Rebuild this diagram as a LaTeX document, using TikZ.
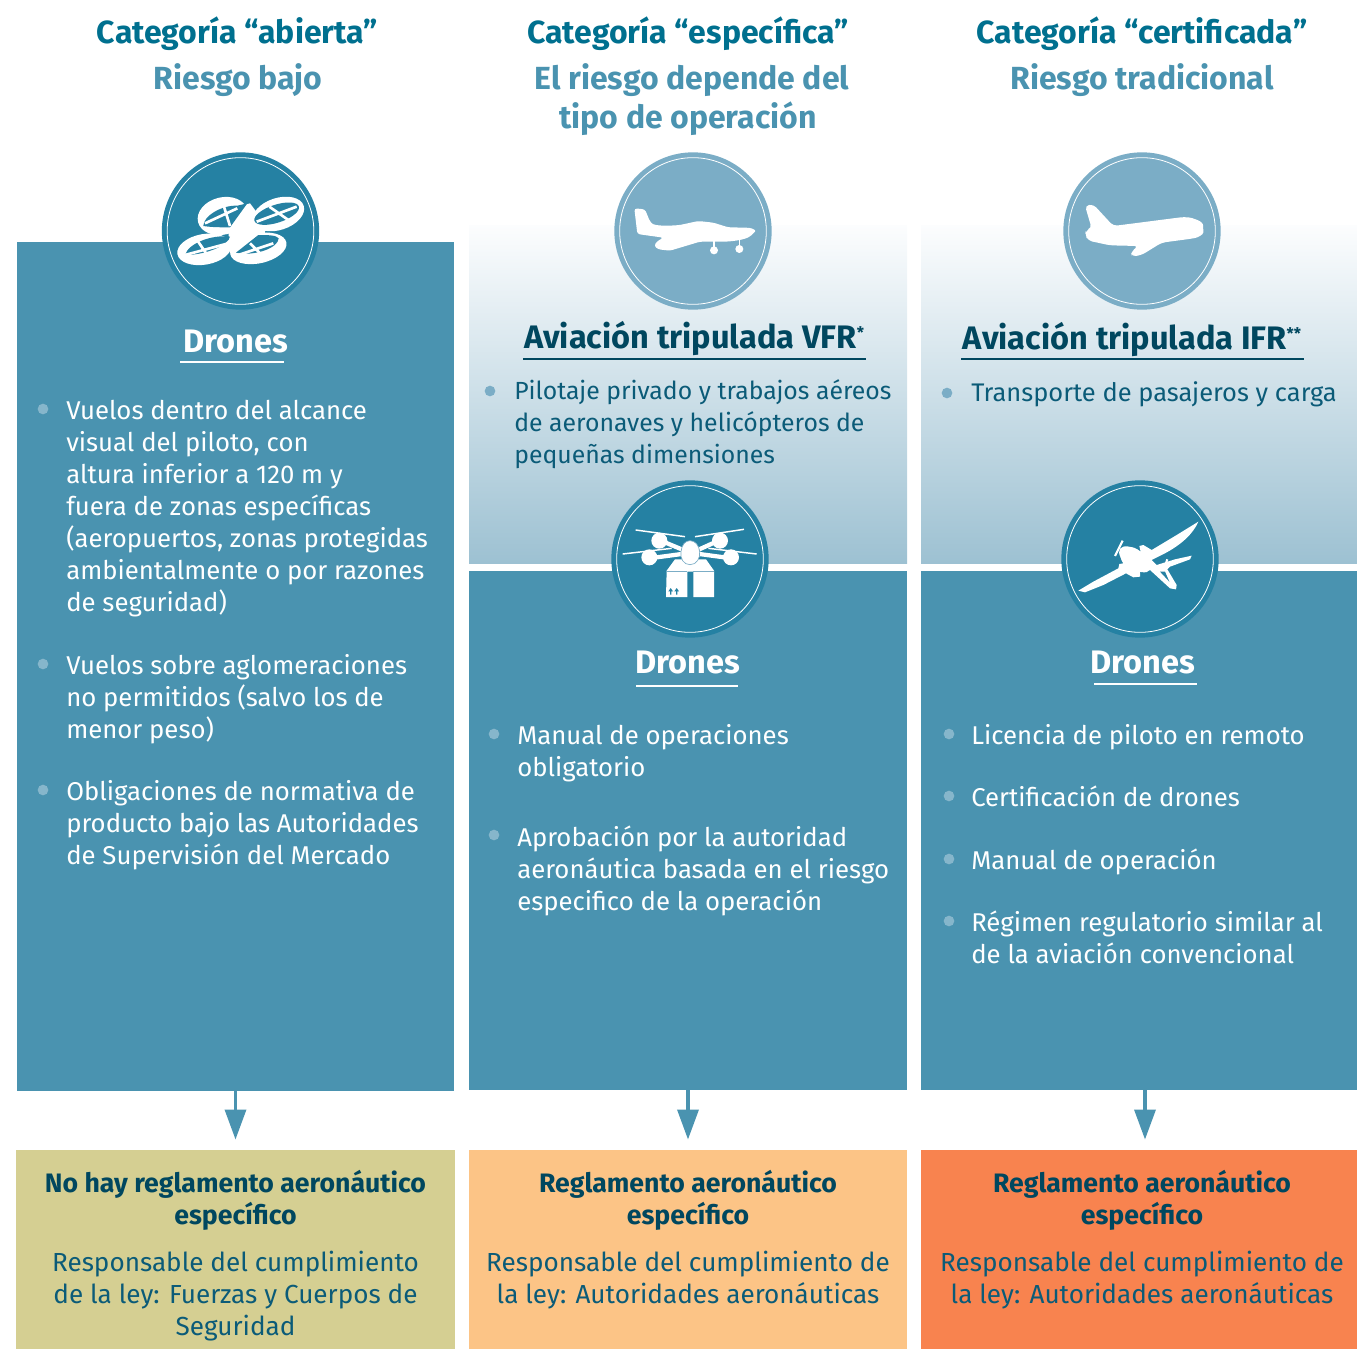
\documentclass[tikz,border=0pt]{standalone}
\usepackage{fontspec}
\setmainfont{Fira Sans}
\usetikzlibrary{arrows.meta}
\definecolor{panel}{HTML}{4A93B0}
\definecolor{disc}{HTML}{2581A3}
\definecolor{lightdisc}{HTML}{7BADC6}
\definecolor{gradtop}{HTML}{FCFDFE}
\definecolor{gradend}{HTML}{9DC1D2}
\definecolor{titlec}{HTML}{00708F}
\definecolor{subc}{HTML}{4A93B0}
\definecolor{darkc}{HTML}{00475F}
\definecolor{bodyd}{HTML}{0B5B78}
\definecolor{boxa}{HTML}{D5CF92}
\definecolor{boxb}{HTML}{FCC486}
\definecolor{boxc}{HTML}{F8834F}
\definecolor{dotl}{HTML}{86B6CB}
\tikzset{
  px/.style={x=0.75pt,y=-0.75pt},
  panelbox/.style={rectangle,inner sep=0pt,outer sep=0pt,fill=panel,anchor=north west},
  headt/.style={anchor=base,inner sep=0pt,font=\fontsize{24}{28}\selectfont\bfseries},
  bodyt/.style={anchor=north west,inner sep=0pt,align=left,yshift=17pt,font=\fontsize{19.3}{24}\selectfont},
  boldc/.style={anchor=north,inner sep=0pt,align=center,yshift=17pt,font=\fontsize{20}{24}\selectfont\bfseries,text=darkc},
  regc/.style={anchor=north,inner sep=0pt,align=center,yshift=17pt,font=\fontsize{19.6}{24}\selectfont,text=bodyd},
  bigt/.style={anchor=base,inner sep=0pt,font=\fontsize{24.4}{28}\selectfont\bfseries},
  dotd/.style={circle,inner sep=0pt,minimum size=8pt,fill=dotl},
  flow/.style={draw=panel,line width=2.5pt,-{Triangle[length=22.5pt,width=15.8pt]},shorten >=0pt},
  ringw/.style={draw=white,line width=.6pt,fill=none},
  icon/.style={x=0.25pt,y=-0.25pt},
}
\begin{document}
\begin{tikzpicture}[px]
\useasboundingbox (0,0) rectangle (1357,1349);
% panels
\shade[top color=gradtop,bottom color=gradend] (469,225) rectangle (907,563);
\shade[top color=gradtop,bottom color=gradend] (921,225) rectangle (1357,563);
\node[panelbox,minimum width=327.75pt,minimum height=636.75pt] (p1) at (17,241.5) {};
\node[panelbox,minimum width=328.5pt,minimum height=389.25pt] (p2) at (469,571) {};
\node[panelbox,minimum width=327pt,minimum height=389.25pt] (p3) at (921,571) {};
\node[panelbox,fill=boxa,minimum width=329.25pt,minimum height=149.25pt] (b1) at (16,1150) {};
\node[panelbox,fill=boxb,minimum width=328.5pt,minimum height=149.25pt] (b2) at (469,1150) {};
\node[panelbox,fill=boxc,minimum width=327pt,minimum height=149.25pt] (b3) at (921,1150) {};
% arrows
\coordinate (t1) at (235.5,1139.5);
\coordinate (t2) at (688,1139.5);
\coordinate (t3) at (1145,1139.5);
\coordinate (s3) at (1145,1090);
\draw[flow] (p1.south) -- (t1);
\draw[flow] (p2.south) -- (t2);
\draw[flow] (s3) -- (t3);
% discs
\node[circle,fill=disc,minimum size=118pt,inner sep=0pt] (d1) at (240.5,231) {};
\node[circle,fill=lightdisc,minimum size=118pt,inner sep=0pt] (d2) at (693,231) {};
\node[circle,fill=lightdisc,minimum size=118pt,inner sep=0pt] (d3) at (1142,231) {};
\node[circle,fill=disc,minimum size=118pt,inner sep=0pt] (d4) at (690,559) {};
\node[circle,fill=disc,minimum size=118pt,inner sep=0pt] (d5) at (1140,559) {};
\foreach \c in {d1,d2,d3,d4,d5} \node[circle,ringw,minimum size=110pt,inner sep=0pt] at (\c) {};
% icon 1
\begin{scope}[shift={(150,140)},icon]
 \fill[white,shift={(218,228)},rotate=14] (0,0) ellipse [x radius=76,y radius=56];
 \fill[white,shift={(385,222)},rotate=18] (0,0) ellipse [x radius=80,y radius=48];
 \fill[white,shift={(163,328)},rotate=10] (0,0) ellipse [x radius=82,y radius=46];
 \fill[white,shift={(325,325)},rotate=12] (0,0) ellipse [x radius=86,y radius=45];
 \fill[white] (265,200) -- (300,190) -- (345,250) -- (345,290) -- (280,340) -- (240,340) -- (235,270) -- cycle;
 \fill[disc] (160,258) .. controls (160,228) and (215,195) .. (262,197) -- (292,190) -- (240,262) .. controls (215,262) and (185,262) .. (160,258) -- cycle;
 \fill[disc,shift={(380,221)},rotate=18] (0,0) ellipse [x radius=70,y radius=27];
 \fill[disc] (105,345) .. controls (115,310) and (185,283) .. (240,290) .. controls (235,315) and (170,345) .. (105,345) -- cycle;
 \fill[disc] (258,338) -- (325,285) .. controls (350,285) and (380,285) .. (386,295) .. controls (385,325) and (310,350) .. (258,338) -- cycle;
 \draw[white,line width=2pt] (165,250)--(262,205) (222,200)--(240,258);
 \draw[white,line width=2pt] (320,245)--(440,200) (358,200)--(415,240);
 \draw[white,line width=2pt] (105,345)--(235,310) (140,298)--(175,350);
 \draw[white,line width=2pt] (265,345)--(370,310) (300,310)--(340,350);
\end{scope}
% icon 2
\begin{scope}[shift={(600,140)},icon]
 \fill[white,rounded corners=2pt] (103,205) -- (135,208) -- (150,245) .. controls (165,258) and (200,258) .. (240,255) -- (295,243) -- (340,248) -- (385,262) -- (440,263) .. controls (460,265) and (468,272) .. (460,280) .. controls (445,295) and (420,302) .. (375,305) -- (300,305) -- (210,332) -- (175,328) -- (162,318) -- (170,305) -- (190,293) -- (112,282) -- cycle;
 \draw[white,line width=.8pt] (342,303)--(342,325) (418,298)--(418,322);
 \fill[white] (342,331) circle [radius=12] (418,327) circle [radius=12];
\end{scope}
% icon 3
\begin{scope}[shift={(1050,140)},icon]
 \fill[white,rounded corners=3pt] (105,197) -- (130,193) -- (190,258) -- (400,231) .. controls (430,233) and (458,245) .. (460,265) .. controls (460,285) and (440,293) .. (425,296) -- (335,308) -- (275,345) -- (245,350) -- (243,335) -- (265,318) -- (180,316) -- (115,302) -- (105,285) -- (108,270) -- (125,265) -- cycle;
\end{scope}
% icon 4
\begin{scope}[shift={(600,470)},icon]
 \draw[white,line width=1.1pt] (107,180)--(255,200) (285,200)--(432,178) (68,252)--(215,235) (325,235)--(470,252);
 \draw[white,line width=3.2pt] (245,238)--(178,210) (298,238)--(360,210) (245,252)--(148,265) (298,252)--(395,265);
 \fill[white] (178,212) circle [radius=24] (360,212) circle [radius=24] (148,262) circle [radius=24] (393,262) circle [radius=24];
 \fill[white] (200,302) -- (225,268) -- (318,268) -- (342,302) -- (342,381) -- (280,381) -- (280,305) -- (262,305) -- (262,381) -- (198,381) -- cycle;
 \draw[lightdisc,line width=.5pt] (200,304)--(262,304) (280,304)--(342,304);
 \fill[white,draw=lightdisc,line width=.5pt] (270,284) .. controls (250,284) and (240,265) .. (243,245) .. controls (245,225) and (255,212) .. (270,212) .. controls (285,212) and (297,225) .. (299,245) .. controls (301,265) and (290,284) .. (270,284) -- cycle;
 \fill[disc] (212,354) -- (205,364) -- (210,364) -- (210,374) -- (214,374) -- (214,364) -- (219,364) -- cycle;
 \fill[disc] (230,354) -- (223,364) -- (228,364) -- (228,374) -- (232,374) -- (232,364) -- (237,364) -- cycle;
\end{scope}
% icon 5
\begin{scope}[shift={(1050,470)},icon]
 \fill[white] (445,155) .. controls (430,190) and (395,225) .. (335,255) -- (305,270) -- (320,285) -- (375,268) -- (425,257) -- (420,268) -- (360,290) -- (352,298) -- (380,345) -- (378,358) -- (360,355) -- (300,300) -- (270,300) -- (270,320) -- (250,322) -- (228,310) -- (160,345) -- (105,367) -- (85,362) -- (130,335) -- (205,295) -- (208,282) -- (220,280) .. controls (205,260) and (210,235) .. (230,232) .. controls (245,228) and (260,235) .. (272,245) -- (268,228) -- (280,225) -- (305,240) -- (380,195) -- cycle;
 \fill[white,shift={(255,268)},rotate=-35] (0,0) ellipse [x radius=55,y radius=28];
 \draw[white,line width=1.6pt] (218,212)--(195,258);
 \draw[white,line width=1.6pt] (352,268)--(340,302);
 \fill[disc] (330,305) -- (345,305) -- (358,335) -- cycle;
\end{scope}
% headers
\node[headt,text=titlec] (h1) at (237.5,43) {Categoría “abierta”};
\node[headt,text=subc] (h1b) at (238,89) {Riesgo bajo};
\node[headt,text=titlec] (h2) at (688,43) {Categoría “específica”};
\node[headt,text=subc] (h2b) at (692,89) {El riesgo depende del};
\node[headt,text=subc] (h2c) at (688,128) {tipo de operación};
\node[headt,text=titlec] (h3) at (1142,43) {Categoría “certificada”};
\node[headt,text=subc] (h3b) at (1142,89) {Riesgo tradicional};
% subtitles
\node[bigt,text=white] (s1) at (235.5,352) {Drones};
\node[bigt,text=darkc] (s2) at (694,348) {Aviación tripulada VFR\raisebox{7pt}{\fontsize{12}{12}\selectfont *}};
\node[bigt,text=darkc] (s3t) at (1132,349) {Aviación tripulada IFR\raisebox{7pt}{\fontsize{12}{12}\selectfont **}};
\node[bigt,text=white] (s4) at (688,673) {Drones};
\node[bigt,text=white] (s5) at (1143,673) {Drones};
\draw[white,line width=1.6pt] (180,362) -- (284,362);
\draw[white,line width=1.6pt] (636,686) -- (738,686);
\draw[white,line width=1.6pt] (1094,684) -- (1197,684);
\draw[darkc,line width=1.6pt] (523,359) -- (866,359);
\draw[darkc,line width=1.6pt] (961,359) -- (1304,359);
% bullets col 1
\node[dotd] (a1) at (43,409) {};
\node[dotd] (a2) at (43,664) {};
\node[dotd] (a3) at (43,790) {};
\node[bodyt,text=white] (ta1) at (66,419) {\strut Vuelos dentro del alcance\\visual del piloto, con\\altura inferior a 120 m y\\fuera de zonas específicas\\(aeropuertos, zonas protegidas\\ambientalmente o por razones\\de seguridad)};
\node[bodyt,text=white] (ta2) at (66,674) {\strut Vuelos sobre aglomeraciones\\no permitidos (salvo los de\\menor peso)};
\node[bodyt,text=white] (ta3) at (66,800) {\strut Obligaciones de normativa de\\producto bajo las Autoridades\\de Supervisión del Mercado};
% col 2
\node[dotd,fill=lightdisc] (b0) at (490,391) {};
\node[bodyt,text=bodyd,font=\fontsize{18.6}{24}\selectfont] (tb0) at (514,399) {\strut Pilotaje privado y trabajos aéreos\\de aeronaves y helicópteros de\\pequeñas dimensiones};
\node[dotd] (b1d) at (494,734) {};
\node[dotd] (b2d) at (494,835) {};
\node[bodyt,text=white] (tb1) at (517,744) {\strut Manual de operaciones\\obligatorio};
\node[bodyt,text=white] (tb2) at (517,846) {\strut Aprobación por la autoridad\\aeronáutica basada en el riesgo\\especifico de la operación};
% col 3
\node[dotd,fill=lightdisc] (c0) at (947,393) {};
\node[bodyt,text=bodyd,font=\fontsize{19.1}{24}\selectfont] (tc0) at (971,401) {\strut Transporte de pasajeros y carga};
\node[dotd] (c1) at (949,734) {};
\node[dotd] (c2) at (949,796) {};
\node[dotd] (c3) at (949,859) {};
\node[dotd] (c4) at (949,921) {};
\node[bodyt,text=white] (tc1) at (971,744) {\strut Licencia de piloto en remoto};
\node[bodyt,text=white] (tc2) at (971,806) {\strut Certificación de drones};
\node[bodyt,text=white] (tc3) at (971,869) {\strut Manual de operación};
\node[bodyt,text=white] (tc4) at (971,931) {\strut Régimen regulatorio similar al\\de la aviación convencional};
% bottom boxes
\node[boldc] (x1) at (235.5,1192) {\strut No hay reglamento aeronáutico\\específico};
\node[regc] (y1) at (235.5,1271) {\strut Responsable del cumplimiento\\de la ley: Fuerzas y Cuerpos de\\Seguridad};
\node[boldc] (x2) at (688,1192) {\strut Reglamento aeronáutico\\específico};
\node[regc] (y2) at (688,1271) {\strut Responsable del cumplimiento de\\la ley: Autoridades aeronáuticas};
\node[boldc] (x3) at (1142,1192) {\strut Reglamento aeronáutico\\específico};
\node[regc] (y3) at (1142,1271) {\strut Responsable del cumplimiento de\\la ley: Autoridades aeronáuticas};
\end{tikzpicture}
\end{document}
